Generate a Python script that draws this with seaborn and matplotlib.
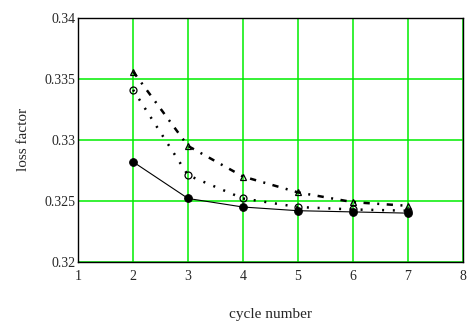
import matplotlib
matplotlib.use("Agg")
import matplotlib.pyplot as plt
import seaborn as sns
import pandas as pd

# cycle numbers and loss factor for three series
cycles = [2, 3, 4, 5, 6, 7]
loss_filled = [0.3282, 0.3252, 0.3245, 0.3242, 0.3241, 0.3240]
loss_open = [0.3341, 0.3271, 0.3252, 0.3245, 0.3243, 0.3242]
loss_triangle = [0.3356, 0.3295, 0.3270, 0.3257, 0.3249, 0.3246]

x_ticks = [1, 2, 3, 4, 5, 6, 7, 8]
y_ticks = [0.32, 0.325, 0.33, 0.335, 0.34]
y_tick_labels = ["0.32", "0.325", "0.33", "0.335", "0.34"]

sns.set_style("white")
plt.rcParams["font.family"] = ["Liberation Serif", "DejaVu Serif"]

fig = plt.figure(figsize=(4.68, 3.25), dpi=100)
ax = fig.add_axes([0.167, 0.194, 0.822, 0.751])

df = pd.DataFrame({"cycle": cycles, "filled": loss_filled,
                   "open": loss_open, "tri": loss_triangle})

sns.lineplot(data=df, x="cycle", y="filled", ax=ax, color="black",
             linewidth=0.8, marker="o", markersize=5.5, markerfacecolor="black",
             markeredgecolor="black", zorder=3)
sns.lineplot(data=df, x="cycle", y="open", ax=ax, color="black",
             linewidth=1.8, marker="o", markersize=5, markerfacecolor="none",
             markeredgecolor="black", markeredgewidth=0.9, zorder=3)
ax.lines[-1].set_dashes([0.8, 3.5])
sns.lineplot(data=df, x="cycle", y="tri", ax=ax, color="black",
             linewidth=1.8, marker="^", markersize=5, markerfacecolor="none",
             markeredgecolor="black", markeredgewidth=0.9, zorder=3)
ax.lines[-1].set_dashes([2.5, 3, 0.8, 3])

ax.set_xlim(1, 8)
ax.set_ylim(0.32, 0.34)
ax.set_xticks(x_ticks)
ax.set_yticks(y_ticks)
ax.set_yticklabels(y_tick_labels)
ax.grid(True, color="#00ee00", linewidth=1.1)
ax.set_axisbelow(True)
for s in ax.spines.values():
    s.set_color("black")
    s.set_linewidth(1)
ax.tick_params(axis="x", labelsize=10, length=0, pad=6)
ax.tick_params(axis="y", labelsize=10, length=0, pad=2)

ax.set_xlabel("cycle number", fontsize=11)
ax.xaxis.set_label_coords(0.5, -0.19)
ax.set_ylabel("loss factor", fontsize=11, labelpad=10)

fig.savefig("out.png", dpi=100)
